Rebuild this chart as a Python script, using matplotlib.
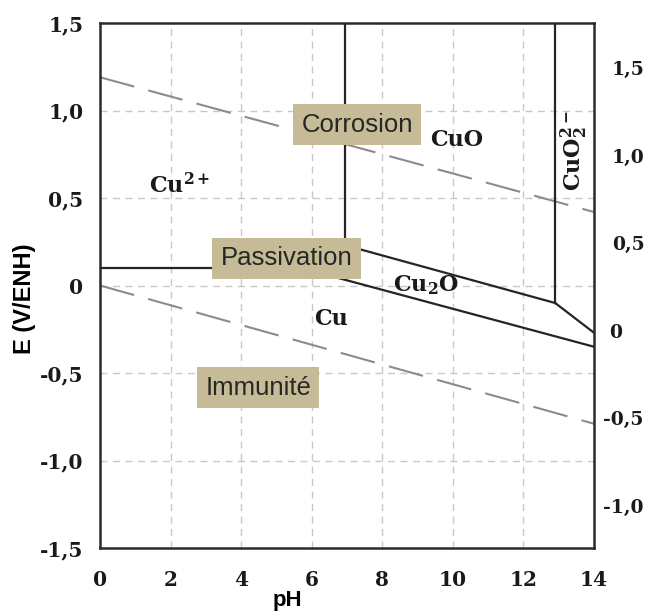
'''     Pourbaix diagram of copper      '''

'''     imports     '''
import matplotlib
matplotlib.use('Agg')
import matplotlib.pyplot as plt
import matplotlib.transforms as mtransforms
from matplotlib.ticker import FixedLocator, FuncFormatter

plt.rcParams['mathtext.fontset'] = 'dejavuserif'
plt.rcParams['mathtext.default'] = 'bf'

# axis ticks
ph_ticks = [0, 2, 4, 6, 8, 10, 12, 14]
e_ticks = [-1.5, -1.0, -0.5, 0, 0.5, 1.0, 1.5]
e_ticks_right = [-1.0, -0.5, 0, 0.5, 1.0, 1.5]
right_offset = 0.27   # right scale is shifted with respect to E(V/ENH)

# domain boundaries (pH, E)
cu2_cu_ph = [0, 5.7]
cu2_cu_e = [0.10, 0.10]
cu2_cu2o_ph = [5.7, 6.95]
cu2_cu2o_e = [0.10, 0.23]
cu2_cuo_ph = [6.95, 6.95]
cu2_cuo_e = [0.23, 1.5]
cu2o_cuo_ph = [6.95, 12.9]
cu2o_cuo_e = [0.23, -0.10]
cuo_cuo2_ph = [12.9, 12.9]
cuo_cuo2_e = [-0.10, 1.5]
cu2o_cuo2_ph = [12.9, 14]
cu2o_cuo2_e = [-0.10, -0.27]
cu_cu2o_ph = [5.7, 14]
cu_cu2o_e = [0.10, -0.35]

# water stability lines
o2_ph = [0, 14]
o2_e = [1.19, 0.42]
h2_ph = [0, 14]
h2_e = [0.0, -0.79]

# species labels
species = [r'Cu$^{2+}$', 'CuO', r'Cu$_2$O', 'Cu', r'CuO$_2^{2-}$']
species_ph = [2.25, 10.1, 9.25, 6.55, 13.45]
species_e = [0.57, 0.83, 0.0, -0.19, 0.77]
species_rot = [0, 0, 0, 0, 90]

# region labels (boxes)
regions = ['Corrosion', 'Passivation', 'Immunité']
regions_ph = [7.29, 5.28, 4.48]
regions_e = [0.92, 0.157, -0.583]

fig = plt.figure(figsize=(6.48, 6.11), dpi=100)
ax = fig.add_axes([100 / 648, 1 - 548 / 611, 494 / 648, 525 / 611])

# grid
for p in ph_ticks[1:-1]:
    ax.axvline(p, color='#c8c8c8', lw=1, ls=(0, (5, 4)), zorder=1)
for e in [-1.0, -0.5, 0, 0.5, 1.0]:
    ax.axhline(e, color='#c8c8c8', lw=1, ls=(0, (5, 4)), zorder=1)

# water lines
ax.plot(o2_ph, o2_e, color='#8c8c8c', lw=1.5, dashes=(17, 7), zorder=2)
ax.plot(h2_ph, h2_e, color='#8c8c8c', lw=1.5, dashes=(17, 7), zorder=2)

# boundaries
for xs, ys in [(cu2_cu_ph, cu2_cu_e), (cu2_cu2o_ph, cu2_cu2o_e),
               (cu2_cuo_ph, cu2_cuo_e), (cu2o_cuo_ph, cu2o_cuo_e),
               (cuo_cuo2_ph, cuo_cuo2_e), (cu2o_cuo2_ph, cu2o_cuo2_e),
               (cu_cu2o_ph, cu_cu2o_e)]:
    ax.plot(xs, ys, color='#252525', lw=1.6, zorder=3)

for s, x, y, r in zip(species, species_ph, species_e, species_rot):
    ax.text(x, y, s, ha='center', va='center', rotation=r, fontsize=16,
            family='DejaVu Serif', weight='bold', color='#1a1a1a', zorder=4)

for s, x, y in zip(regions, regions_ph, regions_e):
    ax.text(x, y, s, ha='center', va='center', fontsize=18.5,
            family='Liberation Sans', color='#262626', zorder=5,
            bbox=dict(boxstyle='square,pad=0.33', fc='#c5bc97', ec='none'))

ax.set_xlim(0, 14)
ax.set_ylim(-1.5, 1.5)

fmt = FuncFormatter(lambda v, pos: '0' if abs(v) < 1e-9 else ('%.1f' % v).replace('.', ','))
ax.xaxis.set_major_locator(FixedLocator(ph_ticks))
ax.yaxis.set_major_locator(FixedLocator(e_ticks))
ax.yaxis.set_major_formatter(fmt)
ax.tick_params(length=0, labelsize=14.5)
ax.tick_params(axis='y', pad=12)
ax.tick_params(axis='x', pad=16)
for lab in ax.get_xticklabels() + ax.get_yticklabels():
    lab.set_family('DejaVu Serif')
    lab.set_weight('bold')
    lab.set_color('#1a1a1a')

for sp in ax.spines.values():
    sp.set_linewidth(1.8)
    sp.set_color('#2a2a2a')

# right scale (shifted), labels only, minus sign hanging to the left
trans = mtransforms.blended_transform_factory(ax.transAxes, ax.transData)
for r in e_ticks_right:
    xpos = 1.019 if r < 0 else (1.030 if r == 0 else 1.036)
    ax.text(xpos, r - right_offset, fmt(r, 0), transform=trans, ha='left',
            va='center', fontsize=13.5, family='DejaVu Serif', weight='bold',
            color='#1a1a1a', clip_on=False)

ax.set_xlabel('pH', fontsize=16, weight='bold', family='Liberation Sans')
ax.xaxis.set_label_coords(0.38, -0.08)
ax.set_ylabel('E (V/ENH)', fontsize=17, weight='bold', family='Liberation Sans')
ax.yaxis.set_label_coords(-0.13, 0.474)

plt.savefig('out.png', dpi=100)
